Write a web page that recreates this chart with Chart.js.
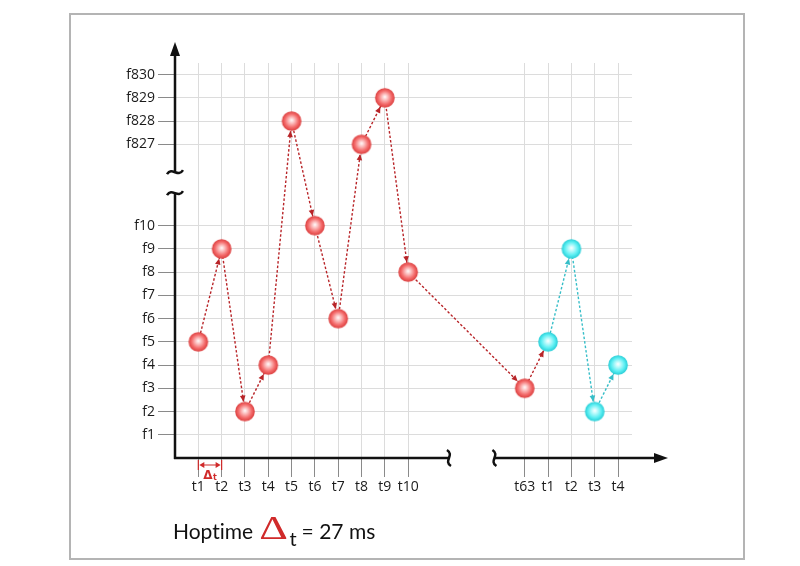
<!DOCTYPE html>
<html>
<head>
<meta charset="utf-8">
<script src="https://cdn.jsdelivr.net/npm/chart.js@4.4.1/dist/chart.umd.min.js"></script>
<style>
  body { margin: 0; background: #fff; }
  #wrap { position: relative; width: 800px; height: 566px; }
  #frame { position: absolute; left: 69px; top: 13px; width: 672px; height: 543px; border: 2px solid #b4b4b4; pointer-events: none; }
  #hoptime { position: absolute; left: 173px; top: 510px; font-family: Lato, "Open Sans", sans-serif; font-size: 21px; color: #111; white-space: nowrap; font-variant-ligatures: none; }
  #hoptime .delta { display: inline-block; color: #d02a2a; font-family: "Liberation Serif", serif; font-size: 33px; transform: scaleX(1.35); margin: 0 5px 0 10px; }
  #hoptime .sub { font-size: 20px; position: relative; top: 7px; margin-right: 5px; }
</style>
</head>
<body>
<div id="wrap">
  <canvas id="hopChart" width="800" height="566"></canvas>
  <div id="frame"></div>
  <div id="hoptime">Hoptime<span class="delta">&Delta;</span><span class="sub">t</span>= 27 ms</div>
</div>
<script>
// time slots (x) and frequency channels (y)
const timeLabels = ['t1', 't2', 't3', 't4', 't5', 't6', 't7', 't8', 't9', 't10', 't63', 't1', 't2', 't3', 't4'];
const timePos = [1, 2, 3, 4, 5, 6, 7, 8, 9, 10, 15, 16, 17, 18, 19];
const freqLabels = ['f1', 'f2', 'f3', 'f4', 'f5', 'f6', 'f7', 'f8', 'f9', 'f10', 'f827', 'f828', 'f829', 'f830'];
const freqPos = [1, 2, 3, 4, 5, 6, 7, 8, 9, 10, 13.5, 14.5, 15.5, 16.5];

// hop sequence: first frame t1..t10, t63 (red), next frame t1..t4 (cyan)
const redHops = ['f5', 'f9', 'f2', 'f4', 'f828', 'f10', 'f6', 'f827', 'f829', 'f8', 'f3'];
const cyanHops = ['f5', 'f9', 'f2', 'f4'];

// axis breaks (in scale units)
const xBreak = [11.75, 13.7];
const yBreak = [11.4, 12.3];

function freqValue(f) {
    return freqPos[freqLabels.indexOf(f)];
}

function makeBall(light, mid, base, dark) {
    var c = document.createElement('canvas');
    c.width = c.height = 22;
    var g = c.getContext('2d');
    var grad = g.createRadialGradient(11, 10, 0.5, 11, 11, 10);
    grad.addColorStop(0, light);
    grad.addColorStop(0.25, mid);
    grad.addColorStop(0.65, base);
    grad.addColorStop(1, dark);
    g.fillStyle = grad;
    g.beginPath();
    g.arc(11, 11, 9.8, 0, Math.PI * 2);
    g.fill();
    return c;
}
var redBall = makeBall('#fff2f2', '#fcc0c0', '#f46c6c', '#da3c3c');
var cyanBall = makeBall('#f2ffff', '#b8fafc', '#5aeef2', '#24cbd4');

var redData = redHops.map((f, i) => ({ x: timePos[i], y: freqValue(f) }));
// bridge from t63 to the first hop of the next frame
redData.push({ x: timePos[redHops.length], y: freqValue(cyanHops[0]) });
var cyanData = cyanHops.map((f, i) => ({ x: timePos[redHops.length + i], y: freqValue(f) }));

//arrow heads at the end of every hop
const hopArrows = {
    id: 'hopArrows',
    afterDatasetsDraw(chart) {
        var ctx = chart.ctx;
        chart.data.datasets.forEach((ds, i) => {
            var pts = chart.getDatasetMeta(i).data;
            ctx.save();
            ctx.fillStyle = ds.borderColor;
            for (let k = 1; k < pts.length; k++) {
                var a = pts[k - 1], b = pts[k];
                var ang = Math.atan2(b.y - a.y, b.x - a.x);
                var c = Math.cos(ang), s = Math.sin(ang);
                var tx = b.x - c * 10, ty = b.y - s * 10;
                ctx.beginPath();
                ctx.moveTo(tx, ty);
                ctx.lineTo(tx - 6 * c + 2.8 * s, ty - 6 * s - 2.8 * c);
                ctx.lineTo(tx - 6 * c - 2.8 * s, ty - 6 * s + 2.8 * c);
                ctx.closePath();
                ctx.fill();
            }
            ctx.restore();
        });
    }
};

function tildeH(ctx, x, y) {
    ctx.beginPath();
    ctx.moveTo(x - 8, y + 2);
    ctx.bezierCurveTo(x - 3, y - 6, x + 3, y + 6, x + 8, y - 2);
    ctx.stroke();
}
function tildeV(ctx, x, y) {
    ctx.beginPath();
    ctx.moveTo(x - 2, y - 8);
    ctx.bezierCurveTo(x + 6, y - 3, x - 6, y + 3, x + 2, y + 8);
    ctx.stroke();
}

//black axes with arrows and breaks, plus the hop time mark
const brokenAxes = {
    id: 'brokenAxes',
    afterDraw(chart) {
        var ctx = chart.ctx;
        var xs = chart.scales.x, ys = chart.scales.y;
        var area = chart.chartArea;
        var x0 = area.left, y0 = area.bottom;
        ctx.save();
        ctx.strokeStyle = '#111';
        ctx.fillStyle = '#111';
        ctx.lineWidth = 2.5;
        ctx.lineCap = 'butt';

        // y axis
        var yb1 = ys.getPixelForValue(yBreak[0]), yb2 = ys.getPixelForValue(yBreak[1]);
        var yTip = area.top - 21;
        ctx.beginPath();
        ctx.moveTo(x0, y0 + 1);
        ctx.lineTo(x0, yb1);
        ctx.moveTo(x0, yb2);
        ctx.lineTo(x0, yTip + 10);
        ctx.stroke();
        tildeH(ctx, x0, yb1);
        tildeH(ctx, x0, yb2);
        ctx.beginPath();
        ctx.moveTo(x0, yTip);
        ctx.lineTo(x0 - 5, yTip + 14);
        ctx.lineTo(x0 + 5, yTip + 14);
        ctx.closePath();
        ctx.fill();

        // x axis
        var xb1 = xs.getPixelForValue(xBreak[0]), xb2 = xs.getPixelForValue(xBreak[1]);
        var xTip = area.right + 36;
        ctx.beginPath();
        ctx.moveTo(x0 - 1, y0);
        ctx.lineTo(xb1, y0);
        ctx.moveTo(xb2, y0);
        ctx.lineTo(xTip - 10, y0);
        ctx.stroke();
        tildeV(ctx, xb1, y0);
        tildeV(ctx, xb2, y0);
        ctx.beginPath();
        ctx.moveTo(xTip, y0);
        ctx.lineTo(xTip - 14, y0 - 5);
        ctx.lineTo(xTip - 14, y0 + 5);
        ctx.closePath();
        ctx.fill();

        // hop time between t1 and t2
        var p1 = xs.getPixelForValue(timePos[0]), p2 = xs.getPixelForValue(timePos[1]);
        var ya = y0 + 7;
        ctx.strokeStyle = '#d02a2a';
        ctx.fillStyle = '#d02a2a';
        ctx.lineWidth = 1.2;
        ctx.beginPath();
        ctx.moveTo(p1, y0 + 2);
        ctx.lineTo(p1, y0 + 12);
        ctx.moveTo(p2, y0 + 2);
        ctx.lineTo(p2, y0 + 12);
        ctx.moveTo(p1 + 3, ya);
        ctx.lineTo(p2 - 3, ya);
        ctx.stroke();
        ctx.beginPath();
        ctx.moveTo(p1 + 1, ya);
        ctx.lineTo(p1 + 6, ya - 3);
        ctx.lineTo(p1 + 6, ya + 3);
        ctx.closePath();
        ctx.moveTo(p2 - 1, ya);
        ctx.lineTo(p2 - 6, ya - 3);
        ctx.lineTo(p2 - 6, ya + 3);
        ctx.closePath();
        ctx.fill();
        ctx.font = 'bold 12px "DejaVu Sans", sans-serif';
        ctx.textAlign = 'center';
        ctx.textBaseline = 'alphabetic';
        ctx.fillText('\u0394', (p1 + p2) / 2 - 2, y0 + 21);
        ctx.font = 'bold 8px "DejaVu Sans", sans-serif';
        ctx.fillText('t', (p1 + p2) / 2 + 5, y0 + 22);
        ctx.restore();
    }
};

var ctx = document.getElementById('hopChart');
new Chart(ctx, {
    type: 'line',
    data: {
        datasets: [
            {
                label: 'next frame',
                data: cyanData,
                order: 0,
                borderColor: '#36bec8',
                borderWidth: 1.4,
                borderDash: [2.5, 2],
                tension: 0,
                pointStyle: cyanBall,
                pointRadius: 9
            },
            {
                label: 'frame',
                data: redData,
                order: 1,
                borderColor: '#b82428',
                borderWidth: 1.4,
                borderDash: [2.5, 2],
                tension: 0,
                pointStyle: redBall,
                pointRadius: (c) => c.dataIndex < redHops.length ? 9 : 0
            }
        ]
    },
    options: {
        responsive: false,
        animation: false,
        layout: { padding: { left: 0, top: 63, right: 168, bottom: 0 } },
        plugins: {
            legend: { display: false },
            tooltip: { enabled: false }
        },
        scales: {
            x: {
                type: 'linear',
                min: 0,
                max: 19.6,
                afterBuildTicks: (scale) => { scale.ticks = timePos.map(v => ({ value: v })); },
                afterFit: (scale) => { scale.height = 108; },
                border: { display: false },
                grid: { color: '#dcdcdc', tickColor: '#8a8a8a', tickLength: 19, lineWidth: 1 },
                ticks: {
                    autoSkip: false,
                    maxRotation: 0,
                    padding: 2,
                    color: '#1a1a1a',
                    font: { family: '"Open Sans", sans-serif', size: 14 },
                    callback: (value, index) => timeLabels[index]
                }
            },
            y: {
                type: 'linear',
                min: 0,
                max: 17,
                afterBuildTicks: (scale) => { scale.ticks = freqPos.map(v => ({ value: v })); },
                afterFit: (scale) => { scale.width = 175; },
                border: { display: false },
                grid: { color: '#dcdcdc', tickColor: '#8a8a8a', tickLength: 17, lineWidth: 1 },
                ticks: {
                    autoSkip: false,
                    padding: 3,
                    color: '#1a1a1a',
                    font: { family: '"Open Sans", sans-serif', size: 14 },
                    callback: (value, index) => freqLabels[index]
                }
            }
        }
    },
    plugins: [hopArrows, brokenAxes]
});
</script>
</body>
</html>
